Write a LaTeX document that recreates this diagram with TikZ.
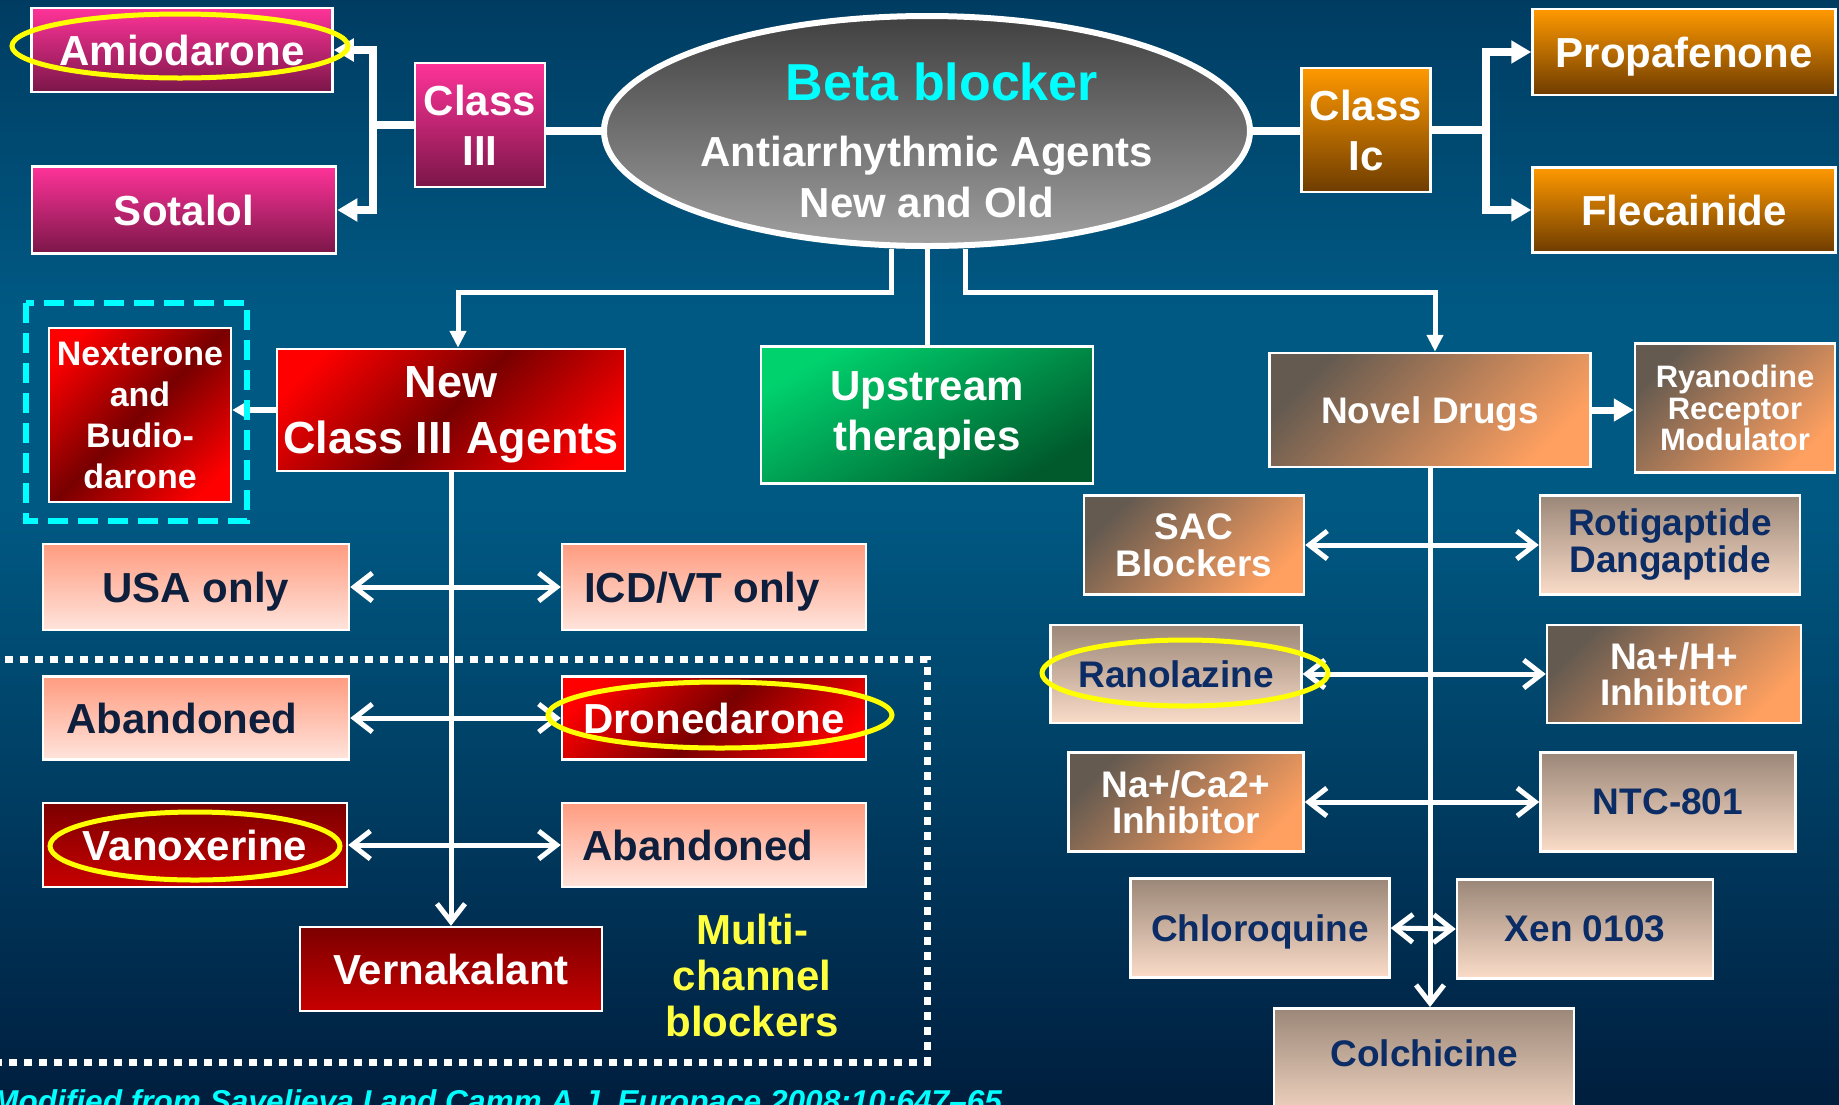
\documentclass[tikz,border=0pt]{standalone}
\usepackage{fontspec}
\setmainfont{Liberation Sans}
\usetikzlibrary{arrows.meta,shapes.geometric}

\definecolor{bgtop}{HTML}{003C62}
\definecolor{bgmid}{HTML}{005983}
\definecolor{bgbot}{HTML}{001E3E}
\definecolor{pinktop}{HTML}{FF3399}
\definecolor{pinkbot}{HTML}{7A1648}
\definecolor{orgtop}{HTML}{FF9900}
\definecolor{orgbot}{HTML}{6E3C00}
\definecolor{redbright}{HTML}{FF0000}
\definecolor{reddark}{HTML}{780000}
\definecolor{vantop}{HTML}{7C0000}
\definecolor{vanbot}{HTML}{C80000}
\definecolor{saltop}{HTML}{FF9C80}
\definecolor{salbot}{HTML}{FFE4DC}
\definecolor{lbtop}{HTML}{9B8778}
\definecolor{lbbot}{HTML}{FADCC8}
\definecolor{dbtl}{HTML}{645A50}
\definecolor{dbbr}{HTML}{FFA060}
\definecolor{grtl}{HTML}{00D26E}
\definecolor{grbr}{HTML}{005A2C}
\definecolor{graytop}{HTML}{404040}
\definecolor{graybot}{HTML}{A0A0A0}
\definecolor{navyA}{HTML}{0D1F3D}
\definecolor{navyB}{HTML}{0C2C66}
\definecolor{hiyellow}{HTML}{FFFF00}
\definecolor{multiyellow}{HTML}{FFFF40}
\definecolor{cyanA}{HTML}{00FFFF}

\pgfdeclareverticalshading{bgshade}{100bp}{color(0bp)=(bgbot); color(25bp)=(bgbot); color(52bp)=(bgmid); color(61bp)=(bgmid); color(75bp)=(bgtop); color(100bp)=(bgtop)}
\pgfdeclarehorizontalshading{redband}{100bp}{color(0bp)=(redbright); color(22bp)=(redbright); color(50bp)=(reddark); color(78bp)=(redbright); color(100bp)=(redbright)}

\newcommand{\myfDrug}{\fontsize{42}{50}\selectfont\bfseries}
\newcommand{\myfSmall}{\fontsize{37}{37}\selectfont\bfseries}
\newcommand{\myfNext}{\fontsize{34}{41}\selectfont\bfseries}
\newcommand{\myfNew}{\fontsize{45}{56}\selectfont\bfseries}
\newcommand{\myfRyan}{\fontsize{31}{31.5}\selectfont\bfseries}

\tikzset{
  TipBig/.tip={Triangle[length=20pt,width=22pt]},
  TipMed/.tip={Triangle[length=17pt,width=16pt]},
  TipSmall/.tip={Triangle[length=13pt,width=14pt]},
  TipBarb/.tip={Straight Barb[length=18pt,width=28pt]},
}

\begin{document}
\begin{tikzpicture}[x=1pt,y=-1pt,
  box/.style={draw=white, line width=2.5pt, inner sep=0pt, align=center, text=white},
  pinkbox/.style={box, top color=pinktop, bottom color=pinkbot, font=\myfDrug},
  orangebox/.style={box, top color=orgtop, bottom color=orgbot, font=\myfDrug},
  redbox/.style={box, shade, shading=redband, shading angle=-45},
  vanbox/.style={box, top color=vantop, bottom color=vanbot, font=\myfDrug},
  salbox/.style={box, top color=saltop, bottom color=salbot, text=navyA, font=\myfDrug},
  lbbox/.style={box, top color=lbtop, bottom color=lbbot, text=navyB, font=\myfSmall},
  dbbox/.style={box, top color=dbtl, bottom color=dbbr, shading angle=45},
  greenbox/.style={box, top color=grtl, bottom color=grbr, shading angle=30, font=\myfDrug},
  nodepth/.style={text depth=0pt},
  thickconn/.style={draw=white, line width=8pt},
  medconn/.style={draw=white, line width=5pt},
  dblarrow/.style={draw=white, line width=5pt, arrows={TipBarb-TipBarb}},
  hilite/.style={draw=hiyellow, line width=5pt},
]
\shade[shading=bgshade] (0,0) rectangle (1839,1104);
\useasboundingbox (0,0) rectangle (1839,1104);
\clip (0,0) rectangle (1839,1104);

% ---------- top row ----------
\node[pinkbox, minimum width=301pt, minimum height=84pt] (amio) at (182,50) {Amiodarone};
\node[pinkbox, minimum width=304pt, minimum height=87pt] (sota) at (184,210) {Sotalol};
\node[pinkbox, minimum width=130pt, minimum height=124pt] (c3) at (480,125) {Class\\III};

\node[ellipse, draw=white, line width=6pt, top color=graytop, bottom color=graybot,
      minimum width=646pt, minimum height=230pt, inner sep=0pt] (beta) at (927,131) {};
\node[align=center, text=white, inner sep=0pt, font=\fontsize{42}{51}\selectfont\bfseries] (betatxt) at (927,140)
  {\hspace*{30pt}{\fontsize{52}{51}\selectfont\textcolor{cyanA}{Beta blocker}}\\[15pt]Antiarrhythmic Agents\\New and Old};

\node[orangebox, minimum width=129pt, minimum height=124pt] (c1c) at (1366,130) {Class\\Ic};
\node[orangebox, nodepth, minimum width=303pt, minimum height=86pt] (prop) at (1684,52) {Propafenone};
\node[orangebox, minimum width=303pt, minimum height=85pt] (flec) at (1684,210) {Flecainide};

% ---------- second row ----------
\node[redbox, nodepth, font=\myfNew, minimum width=348pt, minimum height=122pt] (newc3) at (451,410) {New\\Class III Agents};
\node[redbox, font=\myfNext, minimum width=182pt, minimum height=174pt] (nex) at (140,415) {Nexterone\\and\\Budio-\\darone};
\node[greenbox, minimum width=332pt, minimum height=137pt] (up) at (927,415) {Upstream\\therapies};
\node[dbbox, nodepth, font=\fontsize{37}{37}\selectfont\bfseries, minimum width=321pt, minimum height=114pt] (novel) at (1430,410) {Novel Drugs};
\node[dbbox, font=\myfRyan, minimum width=200pt, minimum height=129pt] (ryan) at (1735,408) {Ryanodine\\Receptor\\Modulator};

% ---------- left column ----------
\node[salbox, nodepth, minimum width=306pt, minimum height=86pt] (usa) at (196,587) {USA only};
\node[salbox, nodepth, minimum width=304pt, minimum height=86pt] (icd) at (714,587) {ICD/VT only\hspace*{24pt}};
\node[salbox, minimum width=306pt, minimum height=83pt] (aband1) at (196,718) {Abandoned\hspace*{28pt}};
\node[redbox, font=\myfDrug, minimum width=304pt, minimum height=83pt] (drone) at (714,718) {Dronedarone};
\node[vanbox, minimum width=304pt, minimum height=84pt] (vanox) at (195,845) {Vanoxerine};
\node[salbox, minimum width=304pt, minimum height=84pt] (aband2) at (714,845) {Abandoned\hspace*{32pt}};
\node[vanbox, minimum width=302pt, minimum height=84pt] (verna) at (451,969) {Vernakalant};
\node[align=center, text=multiyellow, inner sep=0pt, font=\fontsize{42}{46}\selectfont\bfseries] (multi) at (752,975) {Multi-\\channel\\blockers};

% ---------- right column ----------
\node[dbbox, font=\myfSmall, minimum width=220pt, minimum height=99pt] (sac) at (1194,545) {SAC\\Blockers};
\node[lbbox, minimum width=260pt, minimum height=99pt] (roti) at (1670,545) {Rotigaptide\\Dangaptide};
\node[lbbox, minimum width=251pt, minimum height=98pt] (rano) at (1176,674) {Ranolazine};
\node[dbbox, font=\fontsize{37}{36}\selectfont\bfseries, minimum width=254pt, minimum height=98pt] (nah) at (1674,674) {Na+/H+\\Inhibitor};
\node[dbbox, font=\fontsize{37}{36}\selectfont\bfseries, minimum width=235pt, minimum height=99pt] (naca) at (1186,802) {Na+/Ca2+\\Inhibitor};
\node[lbbox, minimum width=255pt, minimum height=99pt] (ntc) at (1668,802) {NTC-801};
\node[lbbox, nodepth, minimum width=259pt, minimum height=99pt] (chloro) at (1260,928) {Chloroquine};
\node[lbbox, minimum width=256pt, minimum height=99pt] (xen) at (1585,929) {Xen 0103};
\node[lbbox, anchor=north, minimum width=300pt, text height=58pt, text depth=60pt] (colch) at (1424,1007) {Colchicine};

% ---------- connectors ----------
\coordinate (j3) at ([xshift=-41pt]c3.west);
\draw[thickconn] (beta.west) -- (beta.west -| c3.east);
\draw[thickconn] (c3.west) -- (j3);
\draw[thickconn, -TipBig] (j3) |- (amio.east);
\draw[thickconn, -TipBig] (j3) |- (sota.east);

\coordinate (j1) at ([xshift=54pt]c1c.east);
\draw[thickconn] (beta.east) -- (beta.east -| c1c.west);
\draw[thickconn] (c1c.east) -- (j1);
\draw[thickconn, -TipBig] (j1) |- (prop.west);
\draw[thickconn, -TipBig] (j1) |- (flec.west);

\draw[medconn, -TipMed] ([xshift=-36pt]beta.south) -- ++(0,43) -| ([xshift=7pt]newc3.north);
\draw[medconn] ([yshift=6pt]beta.south) -- (up.north);
\draw[medconn, -TipMed] ([xshift=38pt]beta.south) -- ++(0,43) -| ([xshift=5pt]novel.north);

\draw[draw=white, line width=6pt, -TipSmall] (newc3.west) -- (newc3.west -| nex.east);
\draw[draw=white, line width=7pt, -TipBig] (novel.east) -- (novel.east -| ryan.west);

\draw[medconn, -TipBarb] (newc3.south) -- (verna.north);
\draw[dblarrow] (usa.east) -- (icd.west);
\draw[dblarrow] (aband1.east) -- (drone.west);
\draw[dblarrow] (vanox.east) -- (aband2.west);

\draw[medconn, -TipBarb] (novel.south) -- (novel.south |- colch.north);
\draw[dblarrow] (sac.east) -- (roti.west);
\draw[dblarrow] (rano.east) -- (nah.west);
\draw[dblarrow] (naca.east) -- (ntc.west);
\draw[dblarrow] (chloro.east) -- (xen.west);

% ---------- frames and highlights ----------
\draw[cyanA, line width=6pt, dash pattern=on 20pt off 10pt] (26,303) rectangle (247,521);
\draw[white, line width=7pt, dash pattern=on 8pt off 7pt] (-10,659) -- (927,659) -- (927,1062) -- (-10,1062);

\draw[hilite] (180,46) ellipse [x radius=168, y radius=32];
\draw[hilite] (720,715) ellipse [x radius=172, y radius=33];
\draw[hilite] (195,846) ellipse [x radius=145, y radius=34];
\draw[hilite] (1185,673) ellipse [x radius=143, y radius=33];

\node[anchor=base west, text=cyanA, inner sep=0pt, font=\fontsize{31.6}{32}\selectfont\bfseries\itshape] (foot) at (-8,1112)
  {Modified from Savelieva I and Camm A.J. Europace 2008;10:647–65};
\end{tikzpicture}
\end{document}
